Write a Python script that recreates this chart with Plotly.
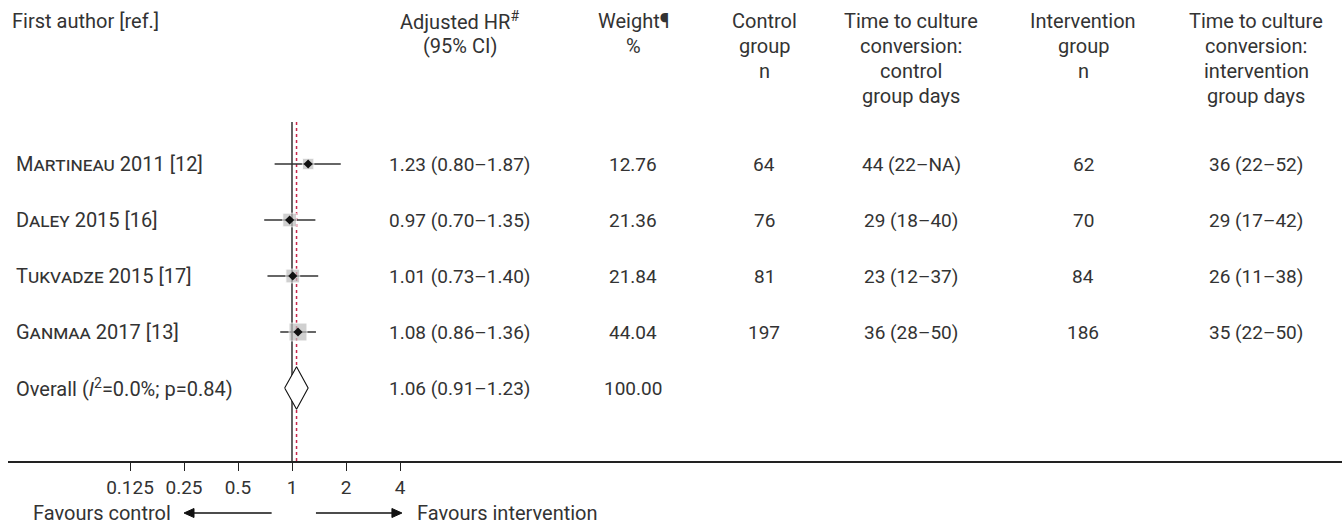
import numpy as np
import plotly.graph_objects as go

# ---------------- data ----------------
authors = ["Martineau 2011 [12]", "Daley 2015 [16]", "Tukvadze 2015 [17]", "Ganmaa 2017 [13]"]
hr = [1.23, 0.97, 1.01, 1.08]
hr_lo = [0.80, 0.70, 0.73, 0.86]
hr_hi = [1.87, 1.35, 1.40, 1.36]
weight = [12.76, 21.36, 21.84, 44.04]
ctrl_n = [64, 76, 81, 197]
ctrl_days = ["44 (22–NA)", "29 (18–40)", "23 (12–37)", "36 (28–50)"]
int_n = [62, 70, 84, 186]
int_days = ["36 (22–52)", "29 (17–42)", "26 (11–38)", "35 (22–50)"]

overall_label = "Overall (<i>I</i><sup>2</sup>=0.0%; p=0.84)"
overall_hr = 1.06
overall_lo = 0.91
overall_hi = 1.23
overall_weight = 100.00

tick_vals = [0.125, 0.25, 0.5, 1, 2, 4]
tick_text = ["0.125", "0.25", "0.5", "1", "2", "4"]

headers = [
    ["First author [ref.]"],
    ["Adjusted HR<sup>#</sup>", "(95% CI)"],
    ["Weight¶", "%"],
    ["Control", "group", "n"],
    ["Time to culture", "conversion:", "control", "group days"],
    ["Intervention", "group", "n"],
    ["Time to culture", "conversion:", "intervention", "group days"],
]

# ---------------- layout constants (pixels) ----------------
W, H = 1343, 524
PLOT_L, PLOT_R = 8, 1342
PLOT_T, PLOT_B = 122, 461
ML, MT, MR, MB = PLOT_L, PLOT_T, W - PLOT_R, H - PLOT_B
PW = PLOT_R - PLOT_L
PH = PLOT_B - PLOT_T
FONT = "Roboto"
TXT = "#333333"
FS_TXT = 20     # word labels
FS_NUM = 19     # numeric cells

# x range (log10): value 1 at px 292, 54 px per doubling
px_per_dec = 54 / np.log10(2)
x_lo = -(292 - PLOT_L) / px_per_dec
x_hi = x_lo + PW / px_per_dec
# y range: row i at px 164 + 56 i
y_top = (PLOT_T - 164) / 56
y_bot = (PLOT_B - 164) / 56


def px_to_paper_x(px):
    return (px - PLOT_L) / PW


def px_to_paper_y(py):
    return (PLOT_B - py) / PH


def val_to_paper_x(v):
    return (np.log10(v) - x_lo) / (x_hi - x_lo)


col_px = [14, 460, 633, 764, 911, 1083, 1256]

rows = list(range(len(authors)))
overall_row = len(authors)

fig = go.Figure()

# reference lines
fig.add_trace(go.Scatter(x=[1, 1], y=[y_top, y_bot], mode="lines",
                         line=dict(color="#111111", width=1.3), hoverinfo="skip"))
fig.add_trace(go.Scatter(x=[overall_hr, overall_hr], y=[y_top, y_bot], mode="lines",
                         line=dict(color="#c8264a", width=1.5, dash="dot"), hoverinfo="skip"))

# CI lines
for i in rows:
    fig.add_trace(go.Scatter(x=[hr_lo[i], hr_hi[i]], y=[i, i], mode="lines",
                             line=dict(color="#333333", width=1.3), hoverinfo="skip"))

# weight squares
fig.add_trace(go.Scatter(x=hr, y=rows, mode="markers",
                         marker=dict(symbol="square", color="#bdbdbd",
                                     size=[4 + 2.1 * np.sqrt(w) for w in weight]),
                         hoverinfo="skip"))
# point estimates
fig.add_trace(go.Scatter(x=hr, y=rows, mode="markers",
                         marker=dict(symbol="diamond", color="#111111", size=7),
                         hoverinfo="skip"))

# overall diamond
dh = 0.38
fig.add_trace(go.Scatter(
    x=[overall_lo, overall_hr, overall_hi, overall_hr, overall_lo],
    y=[overall_row, overall_row - dh, overall_row, overall_row + dh, overall_row],
    mode="lines", fill="toself", fillcolor="white",
    line=dict(color="#111111", width=1.1), hoverinfo="skip"))

ann = []


def txt(x, y, text, xanchor="center", yref="y", variant="normal", size=FS_TXT):
    ann.append(dict(x=x, y=y, xref="paper", yref=yref, text=text, showarrow=False,
                    xanchor=xanchor, yanchor="middle",
                    font=dict(family=FONT, size=size, color=TXT, variant=variant)))


# headers
line_py = [21, 46, 71, 96]
for c, lines in enumerate(headers):
    for k, t in enumerate(lines):
        txt(px_to_paper_x(col_px[c]) if c > 0 else px_to_paper_x(10),
            px_to_paper_y(line_py[k]), t,
            xanchor="left" if c == 0 else "center", yref="paper")

# body rows
for i in rows:
    txt(px_to_paper_x(col_px[0]), i, authors[i], xanchor="left", variant="small-caps")
    txt(px_to_paper_x(col_px[1]), i, f"{hr[i]:.2f} ({hr_lo[i]:.2f}–{hr_hi[i]:.2f})", size=FS_NUM)
    txt(px_to_paper_x(col_px[2]), i, f"{weight[i]:.2f}", size=FS_NUM)
    txt(px_to_paper_x(col_px[3]), i, str(ctrl_n[i]), size=FS_NUM)
    txt(px_to_paper_x(col_px[4]), i, ctrl_days[i], size=FS_NUM)
    txt(px_to_paper_x(col_px[5]), i, str(int_n[i]), size=FS_NUM)
    txt(px_to_paper_x(col_px[6]), i, int_days[i], size=FS_NUM)

txt(px_to_paper_x(col_px[0]), overall_row, overall_label, xanchor="left")
txt(px_to_paper_x(col_px[1]), overall_row,
    f"{overall_hr:.2f} ({overall_lo:.2f}–{overall_hi:.2f})", size=FS_NUM)
txt(px_to_paper_x(col_px[2]), overall_row, f"{overall_weight:.2f}", size=FS_NUM)

# favours arrows (shapes)
arrow_y = px_to_paper_y(513)
ah_w = 10 / PW            # arrowhead length in paper units
ah_h = 4.5 / PH           # arrowhead half height in paper units
shapes = []
left_head, left_tail = val_to_paper_x(0.25), val_to_paper_x(0.77)
right_tail, right_head = val_to_paper_x(1.36), val_to_paper_x(4.1)
for head, tail, d in [(left_head, left_tail, 1), (right_head, right_tail, -1)]:
    shapes.append(dict(type="line", xref="paper", yref="paper",
                       x0=tail, x1=head + d * ah_w * 0.8, y0=arrow_y, y1=arrow_y,
                       line=dict(color="#111111", width=1.5)))
    shapes.append(dict(type="path", xref="paper", yref="paper",
                       path=f"M {head},{arrow_y} L {head + d * ah_w},{arrow_y + ah_h} "
                            f"L {head + d * ah_w},{arrow_y - ah_h} Z",
                       fillcolor="#111111", line=dict(color="#111111", width=1)))

ann.append(dict(x=px_to_paper_x(173), y=arrow_y, xref="paper", yref="paper",
                text="Favours control", showarrow=False, xanchor="right", yanchor="middle",
                font=dict(family=FONT, size=FS_TXT, color=TXT)))
ann.append(dict(x=px_to_paper_x(415), y=arrow_y, xref="paper", yref="paper",
                text="Favours intervention", showarrow=False, xanchor="left", yanchor="middle",
                font=dict(family=FONT, size=FS_TXT, color=TXT)))

fig.update_layout(
    width=W, height=H,
    margin=dict(l=ML, r=MR, t=MT, b=MB, pad=0),
    paper_bgcolor="white", plot_bgcolor="white",
    showlegend=False,
    annotations=ann,
    shapes=shapes,
    xaxis=dict(type="log", range=[x_lo, x_hi], showgrid=False, zeroline=False,
               showline=True, linecolor="#222222", linewidth=1.5,
               ticks="outside", ticklen=8, tickwidth=1.2, tickcolor="#222222",
               tickvals=tick_vals, ticktext=tick_text,
               tickfont=dict(family=FONT, size=FS_NUM, color=TXT), fixedrange=True),
    yaxis=dict(range=[y_bot, y_top], visible=False, fixedrange=True),
)

fig.write_html("out.html", config={"displayModeBar": False},
               post_script="document.body.style.margin='0';"
                           "document.body.style.overflow='hidden';")
